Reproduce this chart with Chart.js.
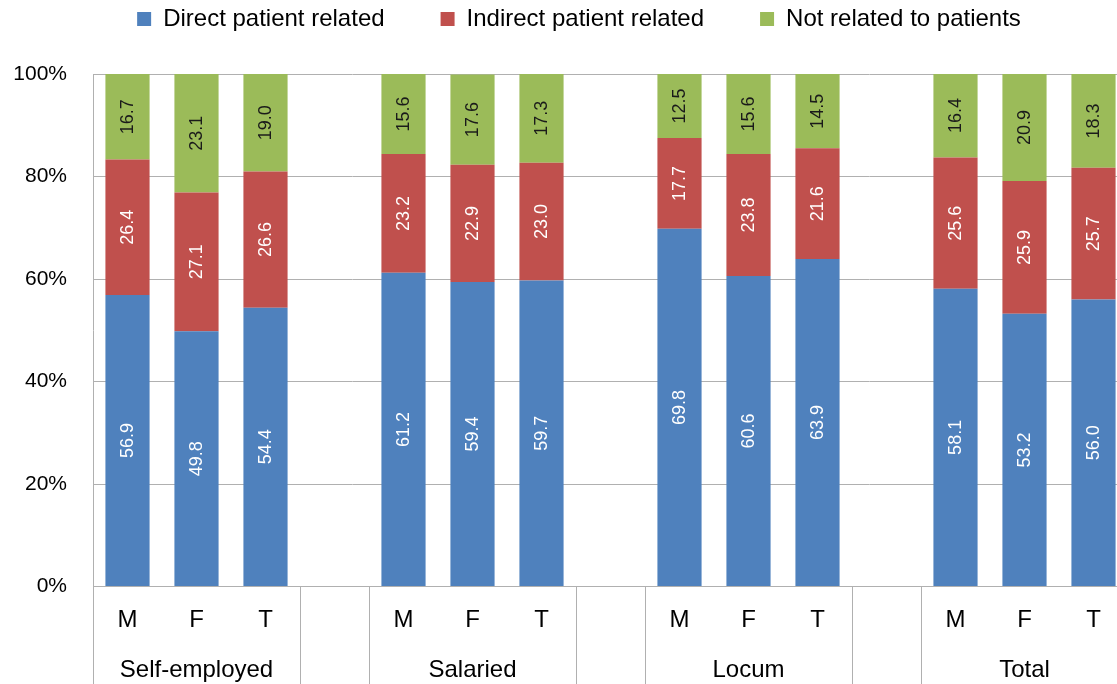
<!DOCTYPE html>
<html><head><meta charset="utf-8">
<script src="https://cdn.jsdelivr.net/npm/chart.js@4.4.0/dist/chart.umd.min.js"></script>
<style>html,body{margin:0;padding:0;background:#fff;overflow:hidden;}canvas{display:block;}</style>
</head><body>
<canvas id="c" width="1128" height="684"></canvas>
<script>
const groups = ['Self-employed', 'Salaried', 'Locum', 'Total'];
const sexes = ['M', 'F', 'T'];
const seriesNames = ['Direct patient related', 'Indirect patient related', 'Not related to patients'];
const direct     = [56.9, 49.8, 54.4, null, 61.2, 59.4, 59.7, null, 69.8, 60.6, 63.9, null, 58.1, 53.2, 56.0];
const indirect   = [26.4, 27.1, 26.6, null, 23.2, 22.9, 23.0, null, 17.7, 23.8, 21.6, null, 25.6, 25.9, 25.7];
const notRelated = [16.7, 23.1, 19.0, null, 15.6, 17.6, 17.3, null, 12.5, 15.6, 14.5, null, 16.4, 20.9, 18.3];
const yTickValues = [0, 20, 40, 60, 80, 100];

const FONT = '"Liberation Sans", Arial, sans-serif';
const gridColor = '#B0B0B0';

// build two-level category labels (blank category between groups)
const labels = [];
const isGap = [];
groups.forEach((g, gi) => {
  if (gi > 0) { labels.push(['', '']); isGap.push(true); }
  sexes.forEach(s => { labels.push([s, s === 'F' ? g : '']); isGap.push(false); });
});
function isSeparator(i) {
  if (i === undefined || i >= labels.length) return false;
  return i === 0 || isGap[i] || isGap[i - 1];
}

const valueLabels = {
  id: 'valueLabels',
  afterDatasetsDraw(chart) {
    const ctx = chart.ctx;
    chart.data.datasets.forEach((ds, di) => {
      const meta = chart.getDatasetMeta(di);
      meta.data.forEach((bar, i) => {
        const v = ds.data[i];
        if (v == null) return;
        const p = bar.getProps(['x', 'y', 'base'], true);
        ctx.save();
        ctx.translate(p.x, (p.y + p.base) / 2);
        ctx.rotate(-Math.PI / 2);
        ctx.font = '18px ' + FONT;
        ctx.fillStyle = ds.labelColor;
        ctx.textAlign = 'center';
        ctx.textBaseline = 'middle';
        ctx.fillText(v.toFixed(1), 0, 1);
        ctx.restore();
      });
    });
  }
};

// let the y-axis tick labels use the space left of the axis box (avoid label clipping)
const widenYLabelArea = {
  id: 'widenYLabelArea',
  afterLayout(chart) { chart.scales.y.left = 0; }
};

new Chart(document.getElementById('c'), {
  type: 'bar',
  data: {
    labels: labels,
    datasets: [
      { label: seriesNames[0], data: direct, backgroundColor: '#4F81BD', labelColor: '#FFFFFF' },
      { label: seriesNames[1], data: indirect, backgroundColor: '#C0504D', labelColor: '#FFFFFF' },
      { label: seriesNames[2], data: notRelated, backgroundColor: '#9BBB59', labelColor: '#1A1A1A' }
    ]
  },
  options: {
    responsive: false,
    animation: false,
    devicePixelRatio: 1,
    barPercentage: 0.64,
    categoryPercentage: 1.0,
    layout: { padding: { top: -49, left: 30, right: 0, bottom: 0 } },
    plugins: {
      legend: {
        position: 'top',
        align: 'center',
        labels: {
          boxWidth: 14, boxHeight: 14, padding: 56, color: '#000',
          font: { family: FONT, size: 24 }
        }
      },
      subtitle: {
        display: true, text: '', weight: 500, position: 'top',
        font: { size: 10, lineHeight: 1.3 }, padding: { top: 20, bottom: 0 }
      },
      tooltip: { enabled: false }
    },
    scales: {
      x: {
        stacked: true,
        offset: true,
        grid: {
          offset: true,
          drawOnChartArea: false,
          drawTicks: true,
          tickLength: 98,
          color: ctx => isSeparator(ctx.index) ? gridColor : 'rgba(0,0,0,0)',
          tickColor: ctx => isSeparator(ctx.index) ? gridColor : 'rgba(0,0,0,0)'
        },
        border: { display: true, color: gridColor, width: 1 },
        ticks: {
          autoSkip: false, maxRotation: 0, minRotation: 0,
          padding: -88.75,
          color: '#000',
          font: { family: FONT, size: 24, lineHeight: 2.0625 }
        },
        afterFit(scale) { scale.height = 97.5; }
      },
      y: {
        stacked: true,
        min: 0, max: 100,
        afterBuildTicks(scale) { scale.ticks = yTickValues.map(v => ({ value: v })); },
        grid: { color: gridColor, drawTicks: false },
        border: { display: true, color: gridColor, width: 1 },
        ticks: {
          padding: 26,
          color: '#000',
          font: { family: FONT, size: 21 },
          callback: v => v + '%'
        },
        afterFit(scale) { scale.width = 63; }
      }
    }
  },
  plugins: [valueLabels, widenYLabelArea]
});
</script>
</body></html>
